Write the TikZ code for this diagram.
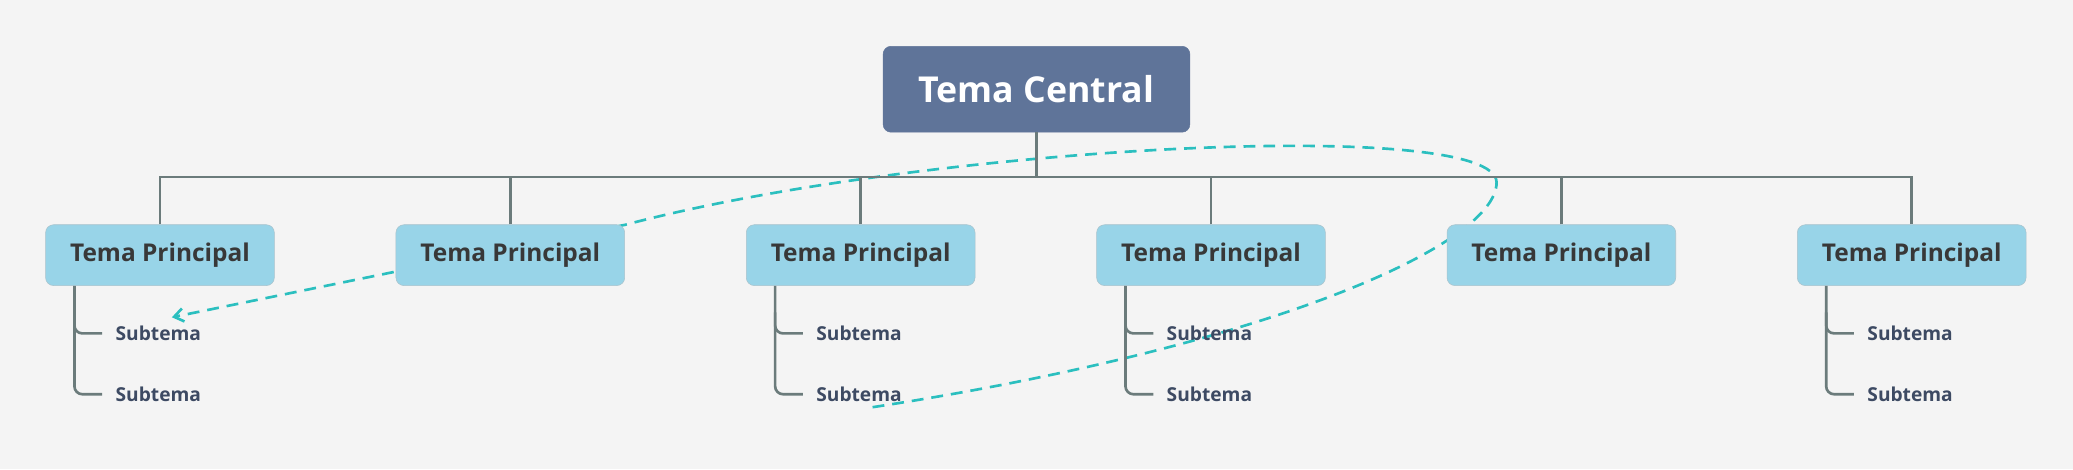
\documentclass[tikz,border=0pt]{standalone}
\usepackage{fontspec}
\setmainfont{Open Sans}
\usetikzlibrary{arrows.meta}
\definecolor{bg}{HTML}{F4F4F4}
\definecolor{central}{HTML}{5F7499}
\definecolor{mainf}{HTML}{98D4E8}
\definecolor{maind}{HTML}{A9C3CC}
\definecolor{linec}{HTML}{6B7B7B}
\definecolor{subt}{HTML}{3D4A63}
\definecolor{teal}{HTML}{2BBFBF}
\begin{document}
\begin{tikzpicture}[x=1pt,y=-1pt,
 central/.style={draw=central,fill=central,rounded corners=6pt,minimum width=232pt,minimum height=65pt,text=white,font=\fontsize{27}{30}\selectfont\bfseries},
 main/.style={draw=maind,fill=mainf,rounded corners=6pt,minimum width=173pt,minimum height=46pt,text=black!78,font=\fontsize{18.5}{22}\selectfont\bfseries},
 sub/.style={anchor=west,text=subt,font=\fontsize{14.5}{17}\selectfont\bfseries,inner sep=0pt},
 conn/.style={draw=linec,line width=2pt},
 br/.style={draw=linec,line width=2pt,rounded corners=6pt},
 reldash/.style={draw=teal,line width=2pt,dash pattern=on 9pt off 6pt}]
\fill[bg] (0,0) rectangle (1568,355);
\useasboundingbox (0,0) rectangle (1568,355);
\coordinate (ds) at (660,308);
\coordinate (de) at (130,240);
\draw[reldash,-{Straight Barb[length=7pt,width=10pt]}] (ds) .. controls (960,262) and (1132,185) .. (1132,138)
  .. controls (1132,88) and (700,110) .. (473,170) -- (de);
\node[central] (c) at (784,67.5) {Tema Central};
\foreach \i/\x in {1/121,2/386,3/651,4/916,5/1181,6/1446}{
  \node[main] (m\i) at (\x,193) {Tema Principal};
}
\coordinate (bus) at (784,134);
\draw[conn] (c.south) -- (bus);
\draw[conn] (m1.north) |- (m6.north |- bus) -- (m6.north);
\foreach \i in {2,3,4,5}{\draw[conn] (m\i.north) -- (m\i.north |- bus);}
\foreach \i in {1,3,4,6}{
  \node[sub] (s\i a) at ([xshift=53pt,yshift=-36pt]m\i.south west) {Subtema};
  \node[sub] (s\i b) at ([xshift=53pt,yshift=-82pt]m\i.south west) {Subtema};
  \draw[br] ([xshift=22pt]m\i.south west) |- ([xshift=-10pt]s\i b.west);
  \draw[br] ([xshift=22pt,yshift=-20pt]m\i.south west) |- ([xshift=-10pt]s\i a.west);
}
\end{tikzpicture}
\end{document}
